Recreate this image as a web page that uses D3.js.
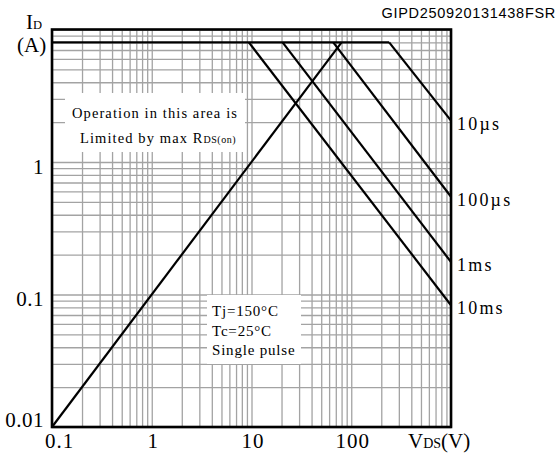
<!DOCTYPE html>
<html lang="en">
<head>
    <meta charset="UTF-8">
    <title>Safe operating area</title>
    <style>
        body { margin: 0; background: #fff; }
        #chart { display: block; }
        .grid line { stroke: #a3a3a3; stroke-width: 1.3; }
        .grid path { display: none; }
        .serif { font-family: "Liberation Serif", "Times New Roman", serif; fill: #000; }
        .curve { fill: none; stroke: #000; stroke-width: 2.2; }
    </style>
</head>
<body>
    <svg id="chart" width="560" height="457"></svg>

    <script src="https://d3js.org/d3.v7.min.js"></script>
    <script>
        // values
        const xTickVals = [0.1, 1, 10, 100];
        const xTickLabels = ["0.1", "1", "10", "100"];
        const yTickVals = [0.01, 0.1, 1];
        const yTickLabels = ["0.01", "0.1", "1"];

        // drain current limit (A)
        const limitV = [0.1, 240];
        const limitI = [8, 8];

        // RDS(on) limit line
        const rdsV = [0.1, 80];
        const rdsI = [0.01, 8];

        // pulse width curves: break point on the current limit, then down to the right edge
        const pulseNames = ["10\u00b5s", "100\u00b5s", "1ms", "10ms"];
        const pulseV = [[240, 1000], [66, 1000], [20.5, 1000], [9.4, 1000]];
        const pulseI = [[8, 2.05], [8, 0.547], [8, 0.176], [8, 0.083]];

        const svg = d3.select("#chart");

        const pLeft = 52, pRight = 451, pTop = 29.5, pBottom = 427;

        const x = d3.scaleLog().domain([0.1, 1000]).range([pLeft, pRight]);
        const y = d3.scaleLog().domain([0.01, 10]).range([pBottom, pTop]);

        // grid, every 1..9 of each decade
        svg.append("g")
            .attr("class", "grid")
            .attr("transform", `translate(0, ${pBottom})`)
            .call(d3.axisBottom(x).ticks(40).tickSize(-(pBottom - pTop)).tickFormat(""));

        svg.append("g")
            .attr("class", "grid")
            .attr("transform", `translate(${pLeft}, 0)`)
            .call(d3.axisLeft(y).ticks(30).tickSize(-(pRight - pLeft)).tickFormat(""));

        // white note boxes over the grid
        svg.append("rect").attr("x", 65).attr("y", 93).attr("width", 180).attr("height", 59).attr("fill", "#fff");
        svg.append("rect").attr("x", 207).attr("y", 295).attr("width", 94).attr("height", 69).attr("fill", "#fff");

        const line = d3.line().x(d => x(d[0])).y(d => y(d[1]));

        // curves
        svg.append("path")
            .attr("class", "curve")
            .attr("d", line(d3.zip(rdsV, rdsI)));

        pulseV.forEach((vs, k) => {
            svg.append("path")
                .attr("class", "curve")
                .attr("d", line(d3.zip(vs, pulseI[k])));
        });

        svg.append("path")
            .attr("class", "curve")
            .attr("stroke-width", 3.2)
            .attr("d", line(d3.zip(limitV, limitI)));

        // frame
        svg.append("rect")
            .attr("x", pLeft).attr("y", pTop)
            .attr("width", pRight - pLeft).attr("height", pBottom - pTop)
            .attr("fill", "none").attr("stroke", "#000").attr("stroke-width", 2.6);

        // tick labels
        const xAxis = svg.append("g")
            .attr("transform", `translate(0, ${pBottom})`)
            .call(d3.axisBottom(x).tickValues(xTickVals).tickSize(0).tickPadding(0)
                .tickFormat((d, i) => xTickLabels[i]));
        xAxis.select(".domain").remove();
        xAxis.selectAll("text")
            .attr("class", "serif")
            .attr("y", 21)
            .attr("dy", 0)
            .attr("dx", (d, i) => i === 0 ? 7 : 1)
            .style("font-size", "21px")
            .style("letter-spacing", "1px");

        const yAxis = svg.append("g")
            .attr("transform", `translate(${pLeft}, 0)`)
            .call(d3.axisLeft(y).tickValues(yTickVals).tickSize(0).tickPadding(0)
                .tickFormat((d, i) => yTickLabels[i]));
        yAxis.select(".domain").remove();
        yAxis.selectAll("text")
            .attr("class", "serif")
            .attr("x", -8)
            .attr("dy", (d, i) => i === 0 ? -1 : 11)
            .style("font-size", "21px")
            .style("letter-spacing", "0.5px");

        // pulse labels on the right edge
        pulseNames.forEach((name, k) => {
            const last = pulseI[k].length - 1;
            svg.append("text")
                .attr("class", "serif")
                .attr("x", pRight + 6)
                .attr("y", y(pulseI[k][last]) + 9)
                .style("font-size", "18px")
                .style("letter-spacing", "2.2px")
                .text(name);
        });

        // axis titles
        const idLabel = svg.append("text").attr("class", "serif").attr("x", 26).attr("y", 29);
        idLabel.append("tspan").style("font-size", "21px").text("I");
        idLabel.append("tspan").style("font-size", "12.5px").text("D");

        svg.append("text").attr("class", "serif").attr("x", 17).attr("y", 52)
            .style("font-size", "21px").text("(A)");

        const vdsLabel = svg.append("text").attr("class", "serif").attr("x", 408).attr("y", 448);
        vdsLabel.append("tspan").style("font-size", "21px").text("V");
        vdsLabel.append("tspan").style("font-size", "14px").text("DS");
        vdsLabel.append("tspan").style("font-size", "21px").text("(V)");

        // notes
        svg.append("text").attr("class", "serif")
            .attr("x", 155).attr("y", 118)
            .attr("text-anchor", "middle")
            .style("font-size", "14.5px").style("letter-spacing", "1.1px")
            .text("Operation in this area is");

        const rds = svg.append("text").attr("class", "serif")
            .attr("x", 158).attr("y", 143)
            .attr("text-anchor", "middle")
            .style("font-size", "14.5px").style("letter-spacing", "1.1px");
        rds.append("tspan").text("Limited by max R");
        rds.append("tspan").style("font-size", "10px").style("letter-spacing", "0.5px").text("DS(on)");

        ["Tj=150\u00b0C", "Tc=25\u00b0C", "Single pulse"].forEach((t, i) => {
            svg.append("text").attr("class", "serif")
                .attr("x", 212).attr("y", 316 + i * 19.5)
                .style("font-size", "15px").style("letter-spacing", "0.8px")
                .text(t);
        });

        // figure code
        svg.append("text")
            .attr("x", 556).attr("y", 18)
            .attr("text-anchor", "end")
            .style("font-family", "'Liberation Sans', Arial, sans-serif")
            .style("font-size", "14.5px")
            .style("letter-spacing", "0.7px")
            .text("GIPD250920131438FSR");
    </script>
</body>
</html>
